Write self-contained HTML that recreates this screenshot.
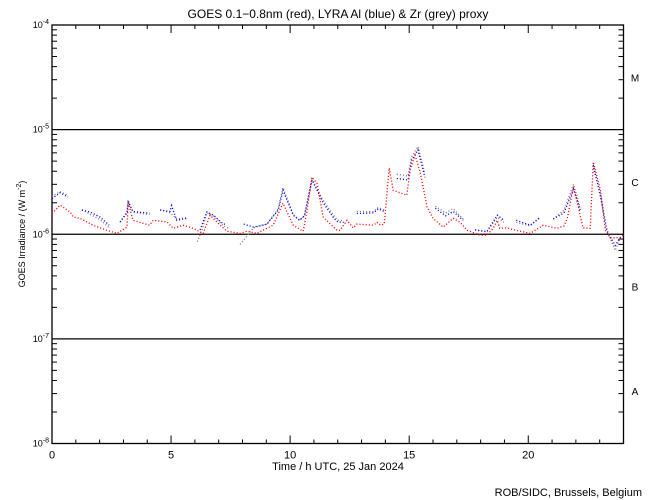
<!DOCTYPE html>
<html><head><meta charset="utf-8"><style>
body{margin:0;background:#fff;}
svg{display:block;font-family:"Liberation Sans",sans-serif;}
</style></head><body>
<svg id="chart" width="650" height="500">
<rect width="650" height="500" fill="#fff"/>
<text x="338" y="18" font-size="12" text-anchor="middle">GOES 0.1−0.8nm (red), LYRA Al (blue) &amp; Zr (grey) proxy</text>
<text transform="translate(25,234) rotate(-90)" font-size="9" text-anchor="middle">GOES Irradiance / (W m<tspan dy="-4" font-size="7">-2</tspan><tspan dy="4">)</tspan></text>
<text x="338" y="470" font-size="11" text-anchor="middle">Time / h UTC, 25 Jan 2024</text>
<text x="642" y="496" font-size="11" text-anchor="end">ROB/SIDC, Brussels, Belgium</text>
<g id="axes"></g>
<g id="series"></g>
</svg>
<script>
const classLabels=["A","B","C","M"];
const decades=[-8,-7,-6,-5,-4];
const xTicks=[0,5,10,15,20];
const goesT=[0,0.34,0.76,0.9,1.18,1.72,2.3,2.73,3.15,3.2,3.4,4.1,4.25,4.83,5.1,5.5,5.92,6.35,6.64,7.06,7.35,7.9,8.19,8.6,9.29,9.7,10.13,10.55,10.7,10.92,11.13,11.39,11.97,12.1,12.39,12.65,12.8,13.5,13.65,13.8,13.95,14.03,14.16,14.33,14.9,15.04,15.25,15.46,15.75,16.0,16.43,16.85,17.14,17.43,17.98,18.26,18.53,18.7,18.8,19.1,19.5,20.08,20.63,21.2,21.5,21.64,21.9,22.1,22.3,22.6,22.73,23.03,23.24,23.45,23.87,24.0];
const goesV=[1.58,1.9,1.63,1.46,1.42,1.22,1.09,1.02,1.17,2.04,1.36,1.22,1.36,1.31,1.14,1.22,1.14,1.02,1.52,1.22,1.07,1.02,1.07,1.02,1.22,1.98,1.22,1.07,1.63,3.5,3.07,1.46,1.09,1.09,1.36,1.15,1.25,1.22,1.3,1.22,1.25,1.98,4.3,2.63,2.36,4.1,5.7,3.95,1.83,1.42,1.17,1.42,1.3,1.09,0.98,0.98,1.14,1.36,1.14,1.15,1.09,1.02,1.22,1.14,1.2,1.42,2.84,1.83,1.15,1.14,4.9,2.63,1.09,0.92,0.93,0.98];
const alT=[0,0.34,0.67,null,1.26,1.6,2.02,2.4,null,2.86,3.15,3.2,3.4,3.98,4.1,null,4.54,4.96,5.02,5.24,5.66,null,6.22,6.5,6.78,7.2,7.35,null,8.05,8.46,9.03,9.5,9.7,10.13,10.4,10.6,10.92,11.39,11.84,12.0,12.25,null,12.8,13.5,13.7,13.95,null,14.48,14.95,15.1,15.37,15.66,null,16.1,16.53,16.85,17.27,null,17.77,18.26,18.7,18.98,null,19.5,20.08,20.5,null,21.05,21.5,21.9,22.18,null,22.73,23.03,23.3,23.65,23.87,24.0];
const alV=[2.19,2.49,2.27,null,1.7,1.63,1.46,1.22,null,1.31,1.6,2.04,1.65,1.6,1.6,null,1.7,1.65,1.88,1.36,1.42,null,1.1,1.63,1.52,1.25,1.25,null,1.25,1.17,1.25,1.7,2.63,1.52,1.36,1.5,3.3,2.0,1.42,1.31,1.3,null,1.58,1.6,1.75,1.65,null,3.41,3.3,5.1,6.4,3.5,null,1.77,1.5,1.65,1.36,null,1.1,1.06,1.52,1.36,null,1.36,1.22,1.46,null,1.4,1.6,2.7,1.7,null,4.6,2.3,1.09,0.78,0.93,0.98];
const zrT=[0,0.34,0.67,null,1.26,1.6,2.02,2.4,null,2.86,3.15,3.2,3.4,3.98,4.1,null,4.54,4.96,5.24,5.66,null,6.1,6.3,6.5,6.78,7.2,7.4,null,7.9,8.46,9.03,9.5,9.7,10.13,10.4,10.6,10.92,11.39,11.84,12.0,12.25,null,12.8,13.5,13.7,13.95,null,14.48,14.95,15.1,15.37,15.66,null,16.1,16.53,16.85,17.27,null,17.77,18.26,18.7,18.98,null,19.5,20.08,20.5,null,21.05,21.5,21.9,22.18,null,22.73,23.03,23.3,23.65,23.87,24.0];
const zrV=[2.3,2.55,2.35,null,1.72,1.55,1.38,1.15,null,1.3,1.65,2.1,1.62,1.55,1.55,null,1.72,1.6,1.4,1.45,null,0.85,1.1,1.6,1.5,1.2,1.15,null,0.8,1.15,1.25,1.75,2.8,1.55,1.35,1.5,3.4,2.1,1.5,1.36,1.35,null,1.65,1.65,1.8,1.7,null,3.75,3.6,5.5,6.9,3.8,null,1.85,1.6,1.75,1.4,null,1.1,1.05,1.45,1.3,null,1.3,1.2,1.45,null,1.4,1.7,3.0,1.8,null,4.3,2.5,1.1,0.7,0.93,0.98];

const X0=52,X1=623.5,Y_TOP=25,Y_BOT=443.5;
function xs(t){return X0+(X1-X0)*t/24;}
function ys(v){const l=Math.log10(v*1e-6);return Y_BOT-(l+8)/4*(Y_BOT-Y_TOP);}
const NS="http://www.w3.org/2000/svg";
const axes=document.getElementById('axes');
function mk(tag,attrs,parent){const e=document.createElementNS(NS,tag);for(const k in attrs)e.setAttribute(k,attrs[k]);parent.appendChild(e);return e;}
const fr=mk('rect',{x:X0,y:Y_TOP,width:X1-X0,height:Y_BOT-Y_TOP,fill:'none',stroke:'#000','stroke-width':1.3},axes);


decades.forEach(d=>{
  const y=Y_BOT-(d+8)/4*(Y_BOT-Y_TOP);
  if(d>-8&&d<-4){const l=mk('line',{x1:X0,x2:X1,y1:y,y2:y,stroke:'#000','stroke-width':1.3},axes);
  
  }
  const t=mk('text',{x:X0-3,y:y+3,'font-size':9,'text-anchor':'end'},axes);
  
  
  t.innerHTML='10<tspan dy="-4" font-size="7">'+d+'</tspan>';
  if(d<-4){for(let m=2;m<=9;m++){const yy=y-Math.log10(m)*(Y_BOT-Y_TOP)/4;
    mk('line',{x1:X0,x2:X0+5,y1:yy,y2:yy,stroke:'#000'},axes);
    mk('line',{x1:X1-5,x2:X1,y1:yy,y2:yy,stroke:'#000'},axes);}}
});
classLabels.forEach((c,i)=>{
  const yc=Y_BOT-(i+0.5)/4*(Y_BOT-Y_TOP);
  const t=mk('text',{x:635,y:yc+4,'font-size':10,'text-anchor':'middle'},axes);
  
  
  t.textContent=c;
});
for(let h=0;h<=24;h++){
  const x=xs(h),len=(h%5===0)?8:4;
  mk('line',{x1:x,x2:x,y1:Y_BOT,y2:Y_BOT-len,stroke:'#000'},axes);
  mk('line',{x1:x,x2:x,y1:Y_TOP,y2:Y_TOP+len,stroke:'#000'},axes);
}
xTicks.forEach(h=>{
  const t=mk('text',{x:xs(h),y:Y_BOT+15,'font-size':11,'text-anchor':'middle'},axes);
  
  
  t.textContent=h;
});
const ser=document.getElementById('series');
function draw(T,V,color,name){
  let d='';let pen=false;
  for(let i=0;i<T.length;i++){
    if(T[i]===null||V[i]===null){pen=false;continue;}
    d+=(pen?'L':'M')+xs(T[i]).toFixed(1)+','+ys(V[i]).toFixed(1);pen=true;
  }
  const p=mk('path',{d:d,fill:'none',stroke:color,'stroke-width':1.3,'stroke-dasharray':'1.1 2'},ser);
  
  
}
draw(zrT,zrV,'#808080','lyra-zr-series');
draw(alT,alV,'#0000ff','lyra-al-series');
draw(goesT,goesV,'#ff0000','goes-series');
</script>
</body></html>
